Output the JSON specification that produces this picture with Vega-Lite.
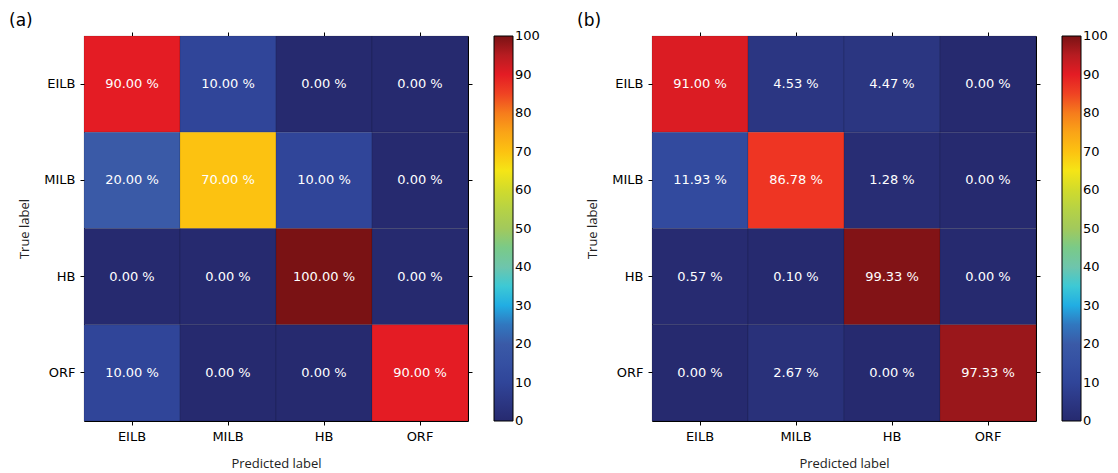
{
  "$schema": "https://vega.github.io/schema/vega-lite/v6.json",
  "padding": {"left": 8, "top": 11, "right": 5, "bottom": 5},
  "background": "white",
  "datasets": {
    "a": [
      {"truth": "EILB", "pred": "EILB", "value": 90, "label": "90.00 %"},
      {"truth": "EILB", "pred": "MILB", "value": 10, "label": "10.00 %"},
      {"truth": "EILB", "pred": "HB", "value": 0, "label": "0.00 %"},
      {"truth": "EILB", "pred": "ORF", "value": 0, "label": "0.00 %"},
      {"truth": "MILB", "pred": "EILB", "value": 20, "label": "20.00 %"},
      {"truth": "MILB", "pred": "MILB", "value": 70, "label": "70.00 %"},
      {"truth": "MILB", "pred": "HB", "value": 10, "label": "10.00 %"},
      {"truth": "MILB", "pred": "ORF", "value": 0, "label": "0.00 %"},
      {"truth": "HB", "pred": "EILB", "value": 0, "label": "0.00 %"},
      {"truth": "HB", "pred": "MILB", "value": 0, "label": "0.00 %"},
      {"truth": "HB", "pred": "HB", "value": 100, "label": "100.00 %"},
      {"truth": "HB", "pred": "ORF", "value": 0, "label": "0.00 %"},
      {"truth": "ORF", "pred": "EILB", "value": 10, "label": "10.00 %"},
      {"truth": "ORF", "pred": "MILB", "value": 0, "label": "0.00 %"},
      {"truth": "ORF", "pred": "HB", "value": 0, "label": "0.00 %"},
      {"truth": "ORF", "pred": "ORF", "value": 90, "label": "90.00 %"}
    ],
    "b": [
      {"truth": "EILB", "pred": "EILB", "value": 91.0, "label": "91.00 %"},
      {"truth": "EILB", "pred": "MILB", "value": 4.53, "label": "4.53 %"},
      {"truth": "EILB", "pred": "HB", "value": 4.47, "label": "4.47 %"},
      {"truth": "EILB", "pred": "ORF", "value": 0, "label": "0.00 %"},
      {"truth": "MILB", "pred": "EILB", "value": 11.93, "label": "11.93 %"},
      {"truth": "MILB", "pred": "MILB", "value": 86.78, "label": "86.78 %"},
      {"truth": "MILB", "pred": "HB", "value": 1.28, "label": "1.28 %"},
      {"truth": "MILB", "pred": "ORF", "value": 0, "label": "0.00 %"},
      {"truth": "HB", "pred": "EILB", "value": 0.57, "label": "0.57 %"},
      {"truth": "HB", "pred": "MILB", "value": 0.1, "label": "0.10 %"},
      {"truth": "HB", "pred": "HB", "value": 99.33, "label": "99.33 %"},
      {"truth": "HB", "pred": "ORF", "value": 0, "label": "0.00 %"},
      {"truth": "ORF", "pred": "EILB", "value": 0, "label": "0.00 %"},
      {"truth": "ORF", "pred": "MILB", "value": 2.67, "label": "2.67 %"},
      {"truth": "ORF", "pred": "HB", "value": 0, "label": "0.00 %"},
      {"truth": "ORF", "pred": "ORF", "value": 97.33, "label": "97.33 %"}
    ]
  },
  "config": {
    "font": "DejaVu Sans",
    "view": {"stroke": "#000", "strokeWidth": 1},
    "concat": {"spacing": 35},
    "axis": {
      "grid": false,
      "domain": false,
      "labelFont": "DejaVu Sans",
      "labelFontSize": 13,
      "labelColor": "#000",
      "tickColor": "#000",
      "tickSize": 4,
      "tickWidth": 1,
      "labelPadding": 5,
      "titleFont": "Open Sans",
      "titleFontSize": 13,
      "titleFontWeight": "normal",
      "titleColor": "#222"
    },
    "legend": {
      "gradientLength": 385,
      "gradientThickness": 19,
      "gradientStrokeColor": "#000",
      "gradientStrokeWidth": 1,
      "labelFont": "DejaVu Sans",
      "labelFontSize": 13,
      "labelColor": "#000",
      "labelOffset": 6,
      "offset": 21,
      "padding": 0
    },
    "title": {
      "font": "DejaVu Sans",
      "fontSize": 17,
      "fontWeight": "normal",
      "color": "#000",
      "anchor": "start",
      "frame": "group",
      "dx": -75,
      "offset": 2
    }
  },
  "hconcat": [
    {
      "title": {"text": "(a)"},
      "width": 384,
      "height": 385,
      "data": {"name": "a"},
      "layer": [
        {
          "mark": {"type": "rect", "stroke": "#000", "strokeOpacity": 0.12, "strokeWidth": 1},
          "encoding": {
            "x": {"field": "pred", "type": "nominal", "sort": ["EILB", "MILB", "HB", "ORF"], "scale": {"type": "band", "paddingInner": 0, "paddingOuter": 0}, "axis": {"orient": "bottom", "labelAngle": 0, "title": "Predicted label", "titlePadding": 14}},
            "y": {"field": "truth", "type": "nominal", "sort": ["EILB", "MILB", "HB", "ORF"], "scale": {"type": "band", "paddingInner": 0, "paddingOuter": 0}, "axis": {"orient": "left", "title": "True label", "titlePadding": 12}},
            "color": {
              "field": "value", "type": "quantitative",
              "scale": {
                "domain": [0, 11, 20, 27, 32, 40, 50, 58, 65, 70, 78, 84, 89, 95, 100],
                "range": ["#262a6f", "#31489d", "#3a5aa7", "#2e82c7", "#2ec9f1", "#6ec5ac", "#a2c95c", "#c4d633", "#f5e516", "#fcc211", "#f7921e", "#f04a23", "#ed1c24", "#b71c21", "#7a1214"]
              },
              "legend": {"title": null, "type": "gradient", "direction": "vertical", "orient": "right", "values": [0, 10, 20, 30, 40, 50, 60, 70, 80, 90, 100], "encode": {"labels": {"update": {"baseline": {"value": "middle"}}}}}
            }
          }
        },
        {
          "mark": {"type": "text", "color": "white", "fontSize": 13, "font": "DejaVu Sans"},
          "encoding": {
            "x": {"field": "pred", "type": "nominal", "sort": ["EILB", "MILB", "HB", "ORF"], "scale": {"type": "band", "paddingInner": 0, "paddingOuter": 0}, "axis": {"orient": "top", "labels": false, "title": null}},
            "y": {"field": "truth", "type": "nominal", "sort": ["EILB", "MILB", "HB", "ORF"], "scale": {"type": "band", "paddingInner": 0, "paddingOuter": 0}, "axis": {"orient": "right", "labels": false, "title": null}},
            "text": {"field": "label"}
          }
        }
      ],
      "resolve": {"axis": {"x": "independent", "y": "independent"}}
    },
    {
      "title": {"text": "(b)"},
      "width": 384,
      "height": 385,
      "data": {"name": "b"},
      "layer": [
        {
          "mark": {"type": "rect", "stroke": "#000", "strokeOpacity": 0.12, "strokeWidth": 1},
          "encoding": {
            "x": {"field": "pred", "type": "nominal", "sort": ["EILB", "MILB", "HB", "ORF"], "scale": {"type": "band", "paddingInner": 0, "paddingOuter": 0}, "axis": {"orient": "bottom", "labelAngle": 0, "title": "Predicted label", "titlePadding": 14}},
            "y": {"field": "truth", "type": "nominal", "sort": ["EILB", "MILB", "HB", "ORF"], "scale": {"type": "band", "paddingInner": 0, "paddingOuter": 0}, "axis": {"orient": "left", "title": "True label", "titlePadding": 12}},
            "color": {
              "field": "value", "type": "quantitative",
              "scale": {
                "domain": [0, 11, 20, 27, 32, 40, 50, 58, 65, 70, 78, 84, 89, 95, 100],
                "range": ["#262a6f", "#31489d", "#3a5aa7", "#2e82c7", "#2ec9f1", "#6ec5ac", "#a2c95c", "#c4d633", "#f5e516", "#fcc211", "#f7921e", "#f04a23", "#ed1c24", "#b71c21", "#7a1214"]
              },
              "legend": {"title": null, "type": "gradient", "direction": "vertical", "orient": "right", "values": [0, 10, 20, 30, 40, 50, 60, 70, 80, 90, 100], "encode": {"labels": {"update": {"baseline": {"value": "middle"}}}}}
            }
          }
        },
        {
          "mark": {"type": "text", "color": "white", "fontSize": 13, "font": "DejaVu Sans"},
          "encoding": {
            "x": {"field": "pred", "type": "nominal", "sort": ["EILB", "MILB", "HB", "ORF"], "scale": {"type": "band", "paddingInner": 0, "paddingOuter": 0}, "axis": {"orient": "top", "labels": false, "title": null}},
            "y": {"field": "truth", "type": "nominal", "sort": ["EILB", "MILB", "HB", "ORF"], "scale": {"type": "band", "paddingInner": 0, "paddingOuter": 0}, "axis": {"orient": "right", "labels": false, "title": null}},
            "text": {"field": "label"}
          }
        }
      ],
      "resolve": {"axis": {"x": "independent", "y": "independent"}}
    }
  ],
  "resolve": {"scale": {"color": "independent"}}
}
